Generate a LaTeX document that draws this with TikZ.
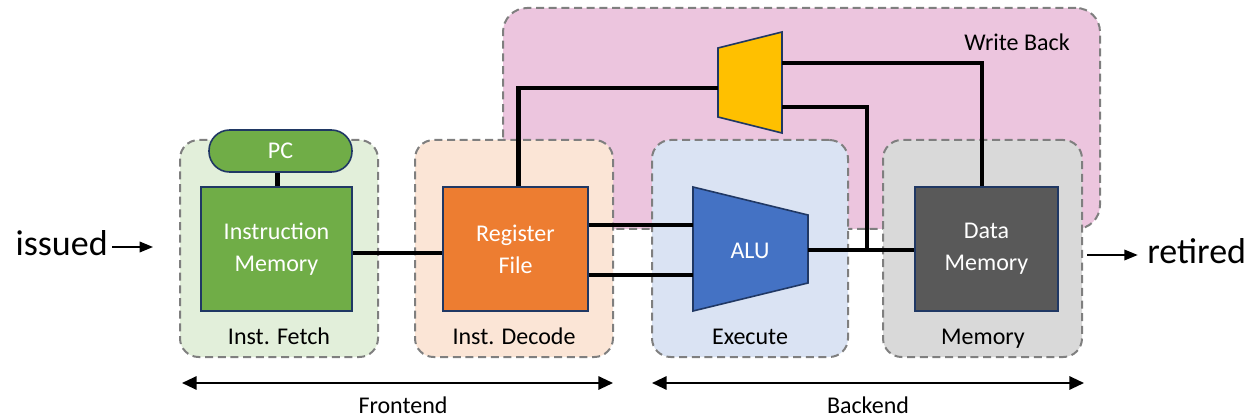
\documentclass[tikz,border=0pt]{standalone}
\usepackage{fontspec}
\setmainfont{Carlito}
\usetikzlibrary{fit,arrows.meta}

\definecolor{wbfill}{HTML}{ECC5DE}
\definecolor{iffill}{HTML}{E2EFDA}
\definecolor{idfill}{HTML}{FBE5D6}
\definecolor{exfill}{HTML}{DAE3F3}
\definecolor{memfill}{HTML}{D9D9D9}
\definecolor{dashgray}{HTML}{7F7F7F}
\definecolor{unitborder}{HTML}{203864}
\definecolor{pcgreen}{HTML}{70AD47}
\definecolor{rforange}{HTML}{ED7D31}
\definecolor{alublue}{HTML}{4472C4}
\definecolor{dmgray}{HTML}{595959}
\definecolor{muxyellow}{HTML}{FFC000}

\begin{document}
\begin{tikzpicture}[x=0.75pt,y=-0.75pt,
  font=\fontsize{18}{24}\selectfont,
  stage/.style={draw=dashgray, line width=1.5pt, dash pattern=on 6pt off 3.5pt,
    rounded corners=14pt, inner sep=0pt},
  unit/.style={draw=unitborder, line width=1.2pt, inner sep=0pt,
    text=white, align=center},
  wire/.style={line width=3.6pt, black},
  stagelabel/.style={anchor=base, inner sep=0pt},
  span/.style={line width=1.5pt, {Triangle[length=11pt,width=10pt]}-{Triangle[length=11pt,width=10pt]}},
  flow/.style={line width=1pt, -{Triangle[length=10pt,width=8pt]}}]
\useasboundingbox (0,0) rectangle (1255,420);

% write-back region sits behind the pipeline stages
\node[stage, rounded corners=18pt, fill=wbfill, fit={(503,8) (1100,229)}] (wb) {};
\node[stagelabel] (wblabel) at (1017,51) {Write Back};

% pipeline stages
\node[stage, fill=iffill, fit={(180,140) (378,357)}] (fetch) {};
\node[stage, fill=idfill, fit={(415,140) (613,357)}] (decode) {};
\node[stage, fill=exfill, fit={(652,140) (848,357)}] (execute) {};
\node[stage, fill=memfill, fit={(883,140) (1082,357)}] (memory) {};

\node[stagelabel] (fetchlabel) at (279,344) {Inst. Fetch};
\node[stagelabel] (decodelabel) at (514,344) {Inst. Decode};
\node[stagelabel] (executelabel) at (750,344) {Execute};
\node[stagelabel] (memorylabel) at (983,344) {Memory};

% functional units
\node[unit, fill=pcgreen, rounded corners=15.5pt, fit={(209,130) (352,172)}] (pc) {};
\node (pclabel) at (pc.center) [text=white] {PC};
\node[unit, fill=pcgreen, fit={(201,187) (352,311)}] (im) {};
\node (imlabel) at (im.center) [text=white, align=center] {Instruction\\Memory};
\node[unit, fill=rforange, fit={(443,187) (588,311)}] (rf) {};
\node (rflabel) at (rf.center) [text=white, align=center] {Register\\File};
\node[unit, fill=dmgray, fit={(915,187) (1058,311)}] (dm) {};
\node (dmlabel) at (dm.center) [text=white, align=center] {Data\\Memory};

% ALU
\draw[unitborder, line width=1.2pt, fill=alublue]
  (693,187) -- (808,215) -- (808,283) -- (693,311) -- cycle;
\node (alulabel) at (750,251) [text=white] {ALU};
\coordinate (aluA) at (693,225);
\coordinate (aluB) at (693,275);
\coordinate (aluOut) at (808,250);

% write-back multiplexer
\draw[unitborder, line width=1.2pt, fill=muxyellow]
  (718,48) -- (782,32) -- (782,133) -- (718,117) -- cycle;
\coordinate (muxA) at (782,63);
\coordinate (muxB) at (782,107);
\coordinate (muxOut) at (718,88);
\coordinate (tap) at (867,250);

% datapath wires
\draw[wire] ([xshift=1pt]im.north) -- ([xshift=1pt]im.north |- pc.south);
\draw[wire] ([yshift=-3pt]im.east) -- ([yshift=-3pt]rf.west);
\draw[wire] (rf.east |- aluA) -- (aluA);
\draw[wire] (rf.east |- aluB) -- (aluB);
\draw[wire] (aluOut) -- (dm.west |- aluOut);
\draw[wire] (tap) |- (muxB);
\draw[wire] ([xshift=-3.4pt]dm.north) |- (muxA);
\draw[wire] ([xshift=2pt]rf.north) |- (muxOut);

% instruction flow
\node[anchor=base east, inner sep=0pt, font=\fontsize{27}{30}\selectfont] (issued) at (108,255) {issued};
\coordinate (inEnd) at (153,247);
\draw[flow] ([xshift=3pt]issued.east |- inEnd) -- (inEnd);
\node[anchor=base west, inner sep=0pt, font=\fontsize{27}{30}\selectfont] (retired) at (1147,263) {retired};
\coordinate (outStart) at (1087,255);
\draw[flow] (outStart) -- ([xshift=-7pt]retired.west |- outStart);

% frontend / backend spans
\coordinate (feL) at (182,383);
\coordinate (feR) at (613,383);
\coordinate (beL) at (652,383);
\coordinate (beR) at (1084,383);
\draw[span] (feL) -- (feR);
\draw[span] (beL) -- (beR);
\node[stagelabel] (frontend) at (403,413) {Frontend};
\node[stagelabel] (backend) at (868,413) {Backend};
\end{tikzpicture}
\end{document}
